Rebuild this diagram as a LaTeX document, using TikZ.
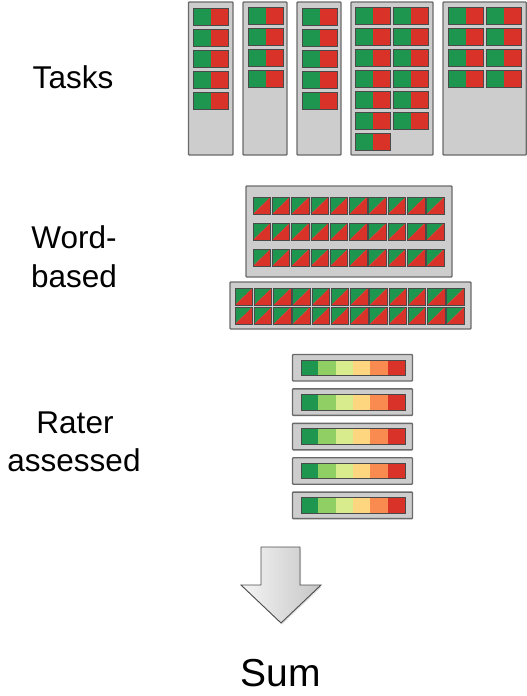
\documentclass[tikz,border=0pt]{standalone}
\usepackage{fontspec}
\setmainfont{Liberation Sans}
\usetikzlibrary{shadows}
\definecolor{tgreen}{HTML}{1E9650}
\definecolor{tred}{HTML}{D93228}
\definecolor{boxfill}{HTML}{CDCDCD}
\definecolor{boxline}{HTML}{6A6A6A}
\definecolor{tileline}{HTML}{4A4A4A}
\definecolor{rA}{HTML}{1E9650}
\definecolor{rB}{HTML}{8FCF63}
\definecolor{rC}{HTML}{D8EC8E}
\definecolor{rD}{HTML}{FDD67F}
\definecolor{rE}{HTML}{F98B50}
\definecolor{rF}{HTML}{D93228}
\newcommand\halftile[2]{%
  \fill[tgreen] (#1,#2) rectangle ++(17.5,17);
  \fill[tred] ({#1+17.5},#2) rectangle ++(17.5,17);
  \draw[tilebox] (#1,#2) rectangle ++(35,17);}
\newcommand\diagtile[2]{%
  \fill[tgreen] (#1,#2) -- ++(17.5,0) -- ++(-17.5,17) -- cycle;
  \fill[tred] ({#1+17.5},#2) -- ++(0,17) -- ++(-17.5,0) -- cycle;
  \draw[tilebox] (#1,#2) rectangle ++(17.5,17);}
\begin{document}
\begin{tikzpicture}[x=1pt,y=-1pt,
  colbox/.style={fill=boxfill,draw=boxline,line width=1.4pt,rounded corners=0.8pt},
  tilebox/.style={draw=tileline,line width=0.8pt},
  lbl/.style={anchor=base,inner sep=0pt,font=\fontsize{31.5}{38}\selectfont},
  sumlbl/.style={anchor=base,inner sep=0pt,font=\fontsize{39}{46}\selectfont},
  arrowshape/.style={draw=black!70,line width=0.9pt,left color=gray!8,right color=gray!45,
    drop shadow={shadow xshift=1pt,shadow yshift=-1.5pt,opacity=0.25}}]
\useasboundingbox (0,0) rectangle (527,696);
% labels
\node[lbl] (tasks) at (73,88) {Tasks};
\node[lbl] (word1) at (74,248) {Word-};
\node[lbl] (word2) at (74,287) {based};
\node[lbl] (rater1) at (75,433) {Rater};
\node[lbl] (rater2) at (74,471) {assessed};
\node[sumlbl] (sum) at (281,686) {Sum};
% task columns
\draw[colbox] (188.5,2) rectangle (233,155);
\draw[colbox] (243,2) rectangle (287,155);
\draw[colbox] (297,2) rectangle (341,155);
\draw[colbox] (351,2) rectangle (433,155);
\draw[colbox] (443,2) rectangle (526.3,155);
\foreach \r in {0,...,4} {\halftile{193}{8+21.1*\r}}
\foreach \r in {0,...,3} {\halftile{248}{7+21.1*\r}}
\foreach \r in {0,...,4} {\halftile{302}{8+21.1*\r}}
\foreach \r in {0,...,6} {\halftile{355}{7+21.1*\r}}
\foreach \r in {0,...,5} {\halftile{393}{7+21.1*\r}}
\foreach \r in {0,...,3} {\halftile{448}{7+21.1*\r}\halftile{486}{7+21.1*\r}}
% word-based
\draw[colbox] (246,186) rectangle (452,277);
\foreach \r in {0,1,2} {\foreach \i in {0,...,9} {\diagtile{253+19.3*\i}{197+26*\r}}}
\draw[colbox] (230,282) rectangle (471,329);
\foreach \r in {0,1} {\foreach \i in {0,...,11} {\diagtile{235+19.25*\i}{288+19*\r}}}
% rater assessed
\foreach \r in {0,...,4} {
  \draw[colbox] (292.5,{354.5+34.4*\r}) rectangle (412.5,{381+34.4*\r});
  \foreach \c [count=\k from 0] in {rA,rB,rC,rD,rE,rF}
    {\fill[\c] ({301+17.33*\k},{360+34.4*\r}) rectangle ++(17.33,15.5);}
  \draw[tilebox] (301,{360+34.4*\r}) rectangle ++(104,15.5);
}
% arrow
\path[arrowshape] (261,547) -- (300,547) -- (300,585) -- (321,585) -- (281,623)
  -- (241,585) -- (261,585) -- cycle;
\end{tikzpicture}
\end{document}
